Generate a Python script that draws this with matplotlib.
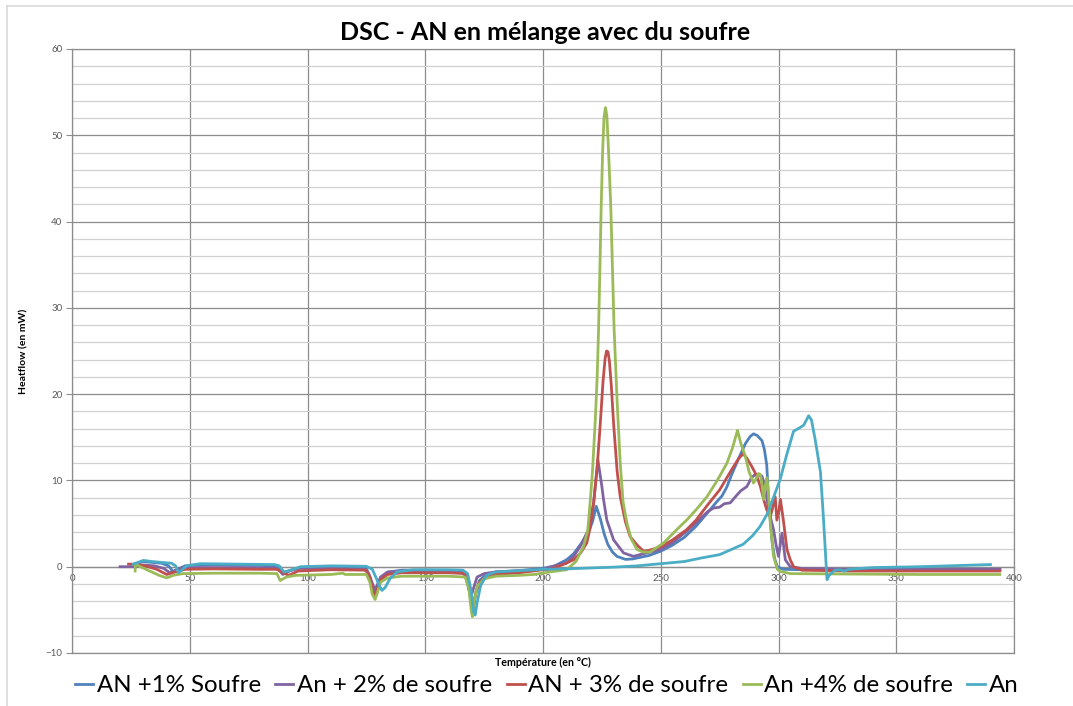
import matplotlib
matplotlib.use("Agg")
import matplotlib.pyplot as plt
from matplotlib.lines import Line2D
from matplotlib.ticker import MultipleLocator, FixedLocator

plt.rcParams['font.family'] = ['Lato', 'DejaVu Sans']

# données (température en °C, flux en mW)
t_1 = [27, 28, 30, 34, 38, 41, 43, 45, 48, 52, 60, 70, 80, 86, 88, 90, 93, 97, 105, 115,
       122, 125, 126.5, 128, 129, 130, 132, 135, 140, 150, 160, 166, 168, 169.5, 170.5,
       171.5, 173, 176, 180, 190, 200, 205, 210, 213, 216, 219, 221, 222.6, 224.3, 226,
       227.5, 229.5, 231.4, 235, 238, 245, 250, 255, 260, 265, 270, 274, 276, 278, 280,
       283, 286, 288, 289.4, 291, 293, 294, 295, 295.8, 297.2, 298.3, 299.5, 302, 310,
       330, 350, 370, 394]
hf_1 = [0.1, 0.4, 0.6, 0.5, 0.4, 0.1, -0.6, -0.3, 0.1, 0.2, 0.25, 0.2, 0.15, 0.1, -0.2,
        -0.8, -0.4, -0.1, 0.0, 0.0, -0.05, -0.2, -1.2, -2.6, -3.0, -2.3, -1.2, -0.6, -0.4,
        -0.4, -0.45, -0.5, -1.5, -4.2, -4.8, -3.0, -1.6, -0.9, -0.6, -0.45, -0.2, 0.1, 0.8,
        1.5, 2.6, 3.8, 5.2, 7.0, 5.6, 3.8, 2.6, 1.7, 1.2, 0.85, 0.9, 1.3, 1.8, 2.5, 3.4,
        4.7, 6.3, 7.6, 8.2, 9.2, 10.6, 12.5, 14.3, 15.1, 15.4, 15.2, 14.6, 13.6, 11.8, 7.8,
        3.1, 1.0, 0.0, -0.3, -0.35, -0.35, -0.35, -0.3, -0.3]

t_2 = [20.4, 27, 30, 35, 39, 41.5, 44, 47, 52, 70, 86, 88, 89.5, 92, 96, 110, 124, 126,
       127.5, 128.5, 129.5, 131, 134, 140, 155, 165, 167, 168.5, 169.5, 170.5, 172, 175,
       180, 190, 200, 205, 210, 213, 215.8, 219.3, 221.5, 223.3, 225, 225.7, 227.1, 230,
       234.2, 238.4, 244, 250, 255, 261, 265, 268, 270, 272.4, 275, 277, 279.5, 282, 284,
       286.6, 288.5, 290.1, 293, 294, 295.1, 296.5, 297.9, 299, 300, 301.5, 302.9, 305,
       310, 330, 360, 394]
hf_2 = [0, 0, 0.2, 0.1, -0.2, -0.7, -0.4, -0.1, -0.1, -0.1, -0.15, -0.4, -0.9, -0.5, -0.2,
        -0.2, -0.3, -0.8, -1.9, -2.6, -2.2, -1.2, -0.6, -0.5, -0.55, -0.6, -1.0, -2.6, -3.4,
        -2.5, -1.2, -0.8, -0.6, -0.5, -0.3, 0.1, 0.4, 1.2, 2.35, 4.3, 7.4, 12.4, 9.3, 7.8,
        5.4, 3.1, 1.6, 1.2, 1.6, 2.0, 2.8, 4.1, 5.1, 5.9, 6.4, 6.8, 6.9, 7.3, 7.4, 8.2, 8.8,
        9.3, 10.3, 10.7, 10.5, 9.5, 7.8, 5.8, 4.3, 2.5, 1.2, 3.9, 0.8, 0.0, -0.2, -0.3,
        -0.3, -0.3]

t_3 = [24, 27, 31, 36, 40.2, 44, 48, 60, 80, 87, 89, 92, 96, 110, 125, 126.5, 127.8, 128.5,
       129.5, 131, 134, 140, 160, 167, 168.5, 169.8, 170.5, 171.5, 173, 176, 180, 190, 200,
       203, 208, 213, 216, 218.6, 220, 221.5, 223, 224.3, 225.5, 226.4, 227, 227.6, 228.2,
       229, 230, 231.5, 232.8, 235, 237, 240, 242.7, 245, 250, 255, 261, 265, 270, 275, 280,
       283, 285, 286.5, 288.7, 290.8, 292.3, 293.7, 295, 296.5, 297.5, 298.6, 299.3, 300.2,
       300.8, 301.5, 302.2, 303.6, 305, 306.4, 310, 330, 360, 394]
hf_3 = [0.3, 0.3, 0.1, -0.3, -0.9, -0.6, -0.3, -0.25, -0.3, -0.3, -0.6, -1.0, -0.5, -0.35,
        -0.4, -1.3, -2.8, -3.3, -2.7, -1.5, -0.9, -0.7, -0.7, -0.8, -1.8, -3.8, -4.3, -3.0,
        -1.8, -1.1, -0.9, -0.7, -0.35, -0.3, 0.2, 0.8, 1.6, 2.75, 4.5, 7.4, 11.5, 16.5, 21.5,
        24.2, 25.0, 24.9, 23.8, 21.0, 16.5, 11.0, 8.1, 5.2, 3.5, 2.5, 1.8, 1.9, 2.3, 3.1,
        4.3, 5.4, 7.2, 8.9, 11.2, 12.5, 13.1, 12.6, 11.6, 10.5, 9.3, 7.8, 6.6, 5.8, 6.8,
        8.1, 5.4, 6.5, 7.8, 6.5, 5.1, 2.0, 0.8, 0.0, -0.4, -0.5, -0.5, -0.5]

t_4 = [26.8, 26.9, 29, 33, 37, 40.2, 43, 47, 60, 80, 87, 88.4, 91, 95, 110, 115, 116, 125,
       126.5, 127.5, 128.7, 129.7, 131, 134, 140, 160, 167, 168.5, 169.5, 170, 170.8, 172,
       175, 180, 190, 196, 203, 210, 214, 217.2, 219, 220, 221, 222.2, 223, 223.6, 224.2,
       224.7, 225.3, 225.9, 226.5, 227.1, 227.7, 228.3, 228.8, 229.5, 230.2, 231.5, 232.8,
       234, 235.6, 237.5, 239.9, 242.5, 245.5, 251.2, 255, 258.3, 261, 265, 269.6, 274,
       278.1, 280.5, 282.6, 284, 285.9, 287.5, 289.4, 290.5, 291.5, 292.3, 293, 293.7, 294.5,
       295.1, 295.7, 296.5, 297.9, 299.5, 300.8, 305, 330, 360, 394]
hf_4 = [-0.5, 0.3, 0.0, -0.5, -1.0, -1.3, -1.0, -0.8, -0.75, -0.75, -0.8, -1.6, -1.2, -1.0,
        -0.9, -0.75, -0.9, -0.9, -1.8, -3.2, -3.8, -3.0, -1.8, -1.3, -1.1, -1.1, -1.2, -2.5,
        -5.0, -5.8, -4.0, -2.3, -1.4, -1.1, -1.0, -0.9, -0.6, -0.35, 0.6, 2.35, 4.2, 7.4, 11,
        17, 22, 27.5, 35, 41.6, 48, 52, 53.2, 52.3, 49, 45, 41.6, 34.5, 27.5, 19, 12, 7.5,
        5.1, 3.2, 2.0, 1.7, 1.7, 2.75, 3.8, 4.7, 5.4, 6.6, 8.1, 10.0, 12.0, 13.8, 15.8, 14.3,
        12.8, 11.0, 9.7, 10.2, 10.8, 10.7, 9.5, 7.8, 9.5, 10.3, 8.5, 5.1, 1.2, -0.3, -0.55,
        -0.8, -0.85, -0.9, -0.9]

t_5 = [26, 28, 30.3, 34, 38, 42.3, 44, 45.2, 46.5, 48.7, 54.4, 70, 86, 88, 90, 93, 97, 110,
       125, 127.5, 129, 130.5, 131.6, 133, 135, 138, 145, 160, 166, 168, 169.5, 170.5, 171.2,
       172, 173.5, 176, 180, 190, 200, 210, 220, 230, 240, 250, 260, 267, 275, 280, 285, 289,
       292, 295, 296.5, 298.5, 300.8, 303.5, 306.4, 309, 310.7, 312.8, 314, 315.6, 317.8,
       319, 320.6, 321.5, 322.7, 324, 326, 328, 330, 340, 360, 390]
hf_5 = [0.3, 0.5, 0.73, 0.6, 0.5, 0.4, 0.1, -0.7, -0.4, 0.1, 0.35, 0.3, 0.25, 0.1, -0.6,
        -0.4, 0.0, 0.1, 0.05, -0.3, -1.2, -2.2, -2.75, -2.4, -1.4, -0.6, -0.35, -0.35, -0.4,
        -0.8, -2.8, -5.2, -5.6, -4.2, -2.2, -1.0, -0.6, -0.45, -0.3, -0.25, -0.15, -0.05,
        0.1, 0.35, 0.6, 1.0, 1.4, 2.0, 2.6, 3.6, 4.6, 6.0, 7.0, 8.5, 10.2, 13.0, 15.7, 16.1,
        16.4, 17.5, 17.0, 14.7, 11.0, 6.0, -1.5, -1.0, -0.7, -0.4, -0.35, -0.5, -0.3, -0.1,
        0.0, 0.25]

x_ticks = [0, 50, 100, 150, 200, 250, 300, 350, 400]

series = [
    ("AN +1% Soufre", t_1, hf_1, "#4F81BD"),
    ("An + 2% de soufre", t_2, hf_2, "#8064A2"),
    ("AN + 3% de soufre", t_3, hf_3, "#C0504D"),
    ("An +4% de soufre", t_4, hf_4, "#9BBB59"),
    ("An", t_5, hf_5, "#4BACC6"),
]

fig = plt.figure(figsize=(10.73, 7.06), dpi=100)
ax = fig.add_axes([72/1073, 1-653/706, 942/1073, 604/706])

for nom, t, hf, c in series:
    ax.plot(t, hf, color=c, lw=2.0, label=nom, solid_joinstyle='round')

ax.set_xlim(0, 400)
ax.set_ylim(-10, 60)
ax.xaxis.set_major_locator(FixedLocator(x_ticks))
ax.yaxis.set_major_locator(MultipleLocator(10))
ax.yaxis.set_minor_locator(MultipleLocator(2))
ax.grid(True, which='major', color='#8C8C8C', lw=0.9)
ax.grid(True, which='minor', axis='y', color='#D0D0D0', lw=0.9)
ax.set_axisbelow(True)
for s in ax.spines.values():
    s.set_color('#8C8C8C')
    s.set_linewidth(0.9)

ax.tick_params(axis='x', which='both', length=0, labelbottom=False)
ax.tick_params(axis='y', which='major', length=4, color='#8C8C8C', labelsize=7,
               labelcolor='#595959', pad=3)
ax.tick_params(axis='y', which='minor', length=0)

# axe des x qui croise à y = 0
sec = ax.secondary_xaxis(10/70)
sec.xaxis.set_major_locator(FixedLocator(x_ticks))
sec.spines['bottom'].set_color('#8C8C8C')
sec.spines['bottom'].set_linewidth(0.9)
sec.tick_params(axis='x', length=3, color='#8C8C8C', labelsize=7, labelcolor='#595959', pad=2)

ax.set_xlabel("Température (en °C)", fontsize=7.7, fontweight='bold', labelpad=3)
ax.set_ylabel("Heatflow (en mW)", fontsize=7.5, fontweight='bold', labelpad=12)
fig.text(0.5084, 1-33/706, "DSC - AN en mélange avec du soufre", fontsize=18,
         fontweight='bold', ha='center', va='center')

fig.legend(loc='center', bbox_to_anchor=(0.5098, 1-686/706), ncol=5, frameon=False,
           fontsize=17.3, handlelength=0.75, handletextpad=0.15, columnspacing=0.6,
           borderaxespad=0)

fig.add_artist(Line2D([7/1073, 7/1073], [0, 1-6/706], color='#D9D9D9', lw=1.2))
fig.add_artist(Line2D([7/1073, 1], [1-6/706, 1-6/706], color='#D9D9D9', lw=1.2))

fig.savefig("out.png", dpi=100)
